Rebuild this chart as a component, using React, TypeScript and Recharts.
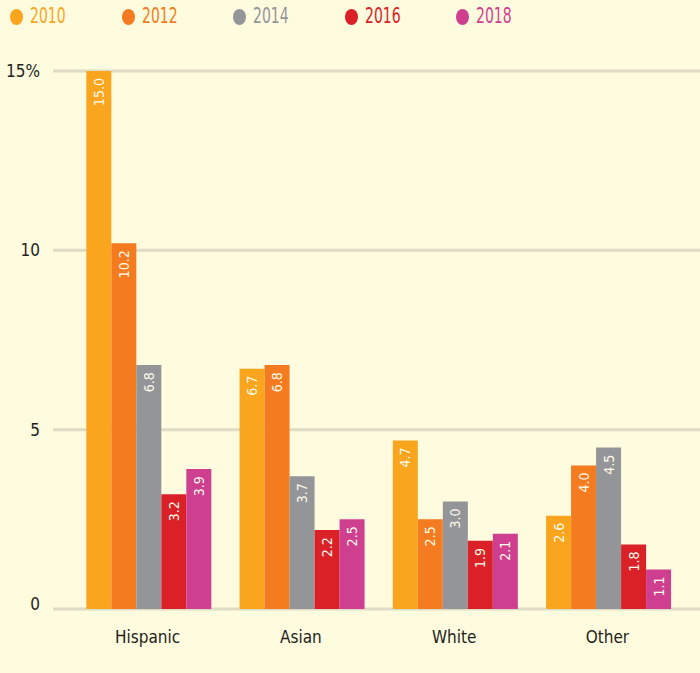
import React from 'react';
import { BarChart, Bar, XAxis, YAxis, CartesianGrid, LabelList } from 'recharts';

const categories = ['Hispanic', 'Asian', 'White', 'Other'];
const years = ['2010', '2012', '2014', '2016', '2018'];
const v2010 = [15.0, 6.7, 4.7, 2.6];
const v2012 = [10.2, 6.8, 2.5, 4.0];
const v2014 = [6.8, 3.7, 3.0, 4.5];
const v2016 = [3.2, 2.2, 1.9, 1.8];
const v2018 = [3.9, 2.5, 2.1, 1.1];
const yTicks = [0, 5, 10, 15];

const colors = ['#F9A51E', '#F47B20', '#939598', '#DA2128', '#CF3F8F'];
const series = [v2010, v2012, v2014, v2016, v2018];

const data = categories.map((c, i) => {
  const row: any = { name: c };
  years.forEach((y, k) => { row['y' + y] = series[k][i]; });
  return row;
});

const FONT = "'DejaVu Sans Condensed', 'Roboto', sans-serif";

const renderLabel = (props: any) => {
  const { x, y, width, value } = props;
  const cx = Number(x) + Number(width) / 2;
  const ty = Number(y) + 7;
  return (
    <text
      x={cx}
      y={ty}
      transform={`rotate(-90, ${cx}, ${ty})`}
      textAnchor="end"
      dominantBaseline="central"
      fill="#FFFBEA"
      fontSize={14}
      fontFamily={FONT}
    >
      {Number(value).toFixed(1)}
    </text>
  );
};

const YTick = (props: any) => {
  const { x, y, payload } = props;
  const v = payload.value;
  return (
    <text x={x} y={v === 0 ? y - 5 : y} dy="0.355em" textAnchor="end" fill="#231F20" fontSize={17} fontFamily={FONT}>
      {v === 15 ? '15%' : String(v)}
    </text>
  );
};

export default function App() {
  return (
    <div style={{ position: 'absolute', left: 0, top: 0, width: 700, height: 673, background: '#FFFBDF' }}>
      {years.map((y, k) => (
        <div key={y} style={{ position: 'absolute', left: 10 + k * 111.5, top: 8, height: 17, display: 'flex', alignItems: 'center' }}>
          <span style={{ display: 'inline-block', width: 13, height: 16, borderRadius: '50%', background: colors[k] }} />
          <span style={{ display: 'inline-block', marginLeft: 7, color: colors[k], fontSize: 21, fontFamily: FONT, lineHeight: '17px', transform: 'scaleX(0.74)', transformOrigin: 'left center' }}>{y}</span>
        </div>
      ))}
      <div style={{ position: 'absolute', left: 0, top: 0 }}>
        <BarChart
          width={700}
          height={673}
          data={data}
          margin={{ top: 71, right: 0, bottom: 0, left: 0 }}
          barCategoryGap="10%"
          barGap={0}
        >
          <CartesianGrid vertical={false} stroke="#DEDCC4" strokeWidth={3} />
          <XAxis
            dataKey="name"
            height={64}
            axisLine={false}
            tickLine={false}
            padding={{ left: 18, right: 16 }}
            tickMargin={16}
            tick={{ fill: '#231F20', fontSize: 17, fontFamily: FONT }}
          />
          <YAxis
            width={53}
            domain={[0, 15]}
            ticks={yTicks}
            axisLine={false}
            tickLine={false}
            tickMargin={7}
            tick={<YTick />}
          />
          {years.map((y, k) => (
            <Bar key={y} dataKey={'y' + y} fill={colors[k]} isAnimationActive={false}>
              <LabelList dataKey={'y' + y} content={renderLabel} />
            </Bar>
          ))}
        </BarChart>
      </div>
    </div>
  );
}
